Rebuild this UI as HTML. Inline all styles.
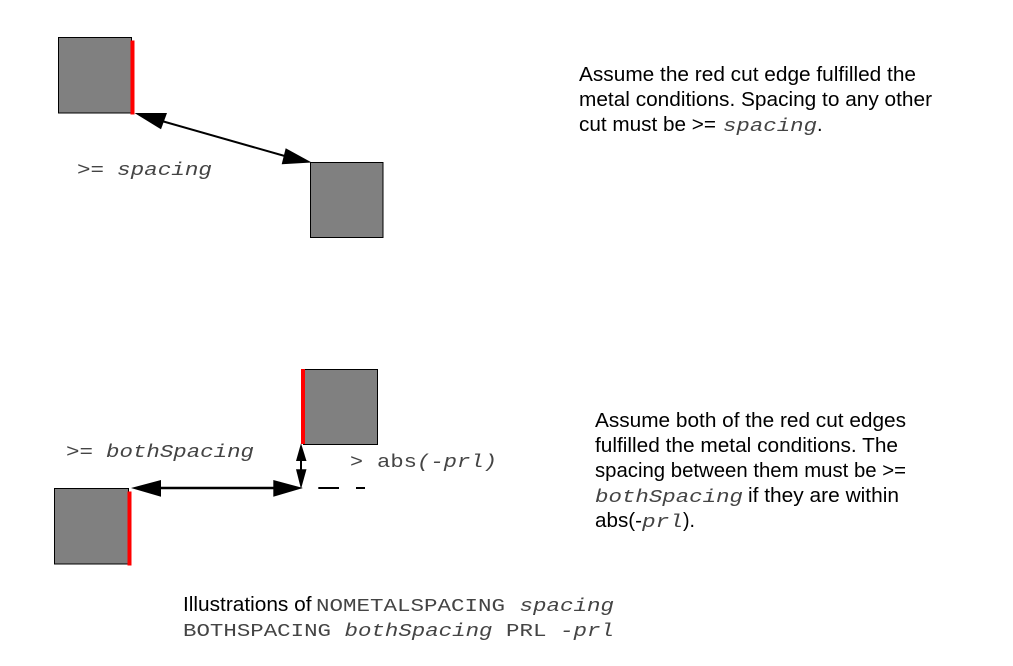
<!DOCTYPE html>
<html>
<head>
<meta charset="utf-8">
<style>
html,body{margin:0;padding:0;background:#fff;width:1013px;height:666px;overflow:hidden}
svg{display:block}
text{fill:#000}
.s{font-family:"Liberation Sans",sans-serif;font-size:20px}
.m{font-family:"Liberation Mono",monospace;font-size:18.5px;fill:#444}
.i{font-style:italic}
</style>
</head>
<body>
<svg width="1013" height="666" viewBox="0 0 1013 666" xmlns="http://www.w3.org/2000/svg">
<!-- squares -->
<g fill="#808080" stroke="#000" stroke-width="1">
<rect x="58.5" y="37.5" width="73" height="75.5"/>
<rect x="310.5" y="162.5" width="72.5" height="75"/>
<rect x="303.5" y="369.5" width="74" height="75"/>
<rect x="54.5" y="488.5" width="74" height="75.5"/>
</g>
<!-- red edges -->
<g fill="#ff0000">
<rect x="130.5" y="40.5" width="4" height="74"/>
<rect x="301" y="369" width="4" height="75"/>
<rect x="127.5" y="491.5" width="4" height="74"/>
</g>
<!-- connector top -->
<line x1="160" y1="120.5" x2="290" y2="157.5" stroke="#000" stroke-width="2"/>
<polygon points="134.5,113 167,113 161,129.3" fill="#000"/>
<polygon points="311.7,162.5 285.7,148.3 281.7,164.3" fill="#000"/>
<!-- connector bottom horizontal -->
<line x1="155" y1="488" x2="280" y2="488" stroke="#000" stroke-width="2.5"/>
<polygon points="131,488 161,480 161,496.7" fill="#000"/>
<polygon points="303,488 273.3,480 273.3,496.7" fill="#000"/>
<!-- connector vertical -->
<line x1="301" y1="455" x2="301" y2="478" stroke="#000" stroke-width="2"/>
<polygon points="301,443.3 296,461 306.5,461" fill="#000"/>
<polygon points="301,489 296,469.3 306.5,469.3" fill="#000"/>
<!-- dashes -->
<line x1="318.3" y1="488" x2="339" y2="488" stroke="#000" stroke-width="2"/>
<line x1="356" y1="488" x2="365" y2="488" stroke="#000" stroke-width="2"/>
<!-- labels -->
<text class="m" x="77" y="175" textLength="27" lengthAdjust="spacingAndGlyphs">&gt;=</text>
<text class="m i" x="117" y="175" textLength="95" lengthAdjust="spacingAndGlyphs">spacing</text>
<text class="m" x="66" y="457" textLength="27" lengthAdjust="spacingAndGlyphs">&gt;=</text>
<text class="m i" x="106" y="457" textLength="148" lengthAdjust="spacingAndGlyphs">bothSpacing</text>
<text class="m" x="350" y="467" textLength="13" lengthAdjust="spacingAndGlyphs">&gt;</text>
<text class="m" x="377" y="467" textLength="40" lengthAdjust="spacingAndGlyphs">abs</text>
<text class="m i" x="417" y="467" textLength="80" lengthAdjust="spacingAndGlyphs">(-prl)</text>
<!-- right top text -->
<text class="s" x="579" y="81" textLength="337" lengthAdjust="spacingAndGlyphs">Assume the red cut edge fulfilled the</text>
<text class="s" x="579" y="106" textLength="353" lengthAdjust="spacingAndGlyphs">metal conditions. Spacing to any other</text>
<text class="s" x="579" y="131" textLength="137" lengthAdjust="spacingAndGlyphs">cut must be &gt;=</text>
<text class="m i" x="723" y="131" textLength="94" lengthAdjust="spacingAndGlyphs">spacing</text>
<text class="s" x="817" y="131">.</text>
<!-- right bottom text -->
<text class="s" x="595" y="427" textLength="311" lengthAdjust="spacingAndGlyphs">Assume both of the red cut edges</text>
<text class="s" x="595" y="452" textLength="303" lengthAdjust="spacingAndGlyphs">fulfilled the metal conditions. The</text>
<text class="s" x="595" y="477" textLength="311" lengthAdjust="spacingAndGlyphs">spacing between them must be &gt;=</text>
<text class="m i" x="595" y="502" textLength="148" lengthAdjust="spacingAndGlyphs">bothSpacing</text>
<text class="s" x="748" y="502" textLength="151" lengthAdjust="spacingAndGlyphs">if they are within</text>
<text class="s" x="595" y="527" textLength="47" lengthAdjust="spacingAndGlyphs">abs(-</text>
<text class="m i" x="642" y="527" textLength="41" lengthAdjust="spacingAndGlyphs">prl</text>
<text class="s" x="683" y="527" textLength="12" lengthAdjust="spacingAndGlyphs">).</text>
<!-- caption -->
<text class="s" x="183" y="611" textLength="128.5" lengthAdjust="spacingAndGlyphs">Illustrations of</text>
<text class="m" x="316" y="611" textLength="189" lengthAdjust="spacingAndGlyphs">NOMETALSPACING</text>
<text class="m i" x="519.5" y="611" textLength="94.5" lengthAdjust="spacingAndGlyphs">spacing</text>
<text class="m" x="183" y="636" textLength="148" lengthAdjust="spacingAndGlyphs">BOTHSPACING</text>
<text class="m i" x="344.5" y="636" textLength="148" lengthAdjust="spacingAndGlyphs">bothSpacing</text>
<text class="m" x="506" y="636" textLength="40.5" lengthAdjust="spacingAndGlyphs">PRL</text>
<text class="m i" x="560" y="636" textLength="54" lengthAdjust="spacingAndGlyphs">-prl</text>
</svg>
</body>
</html>
